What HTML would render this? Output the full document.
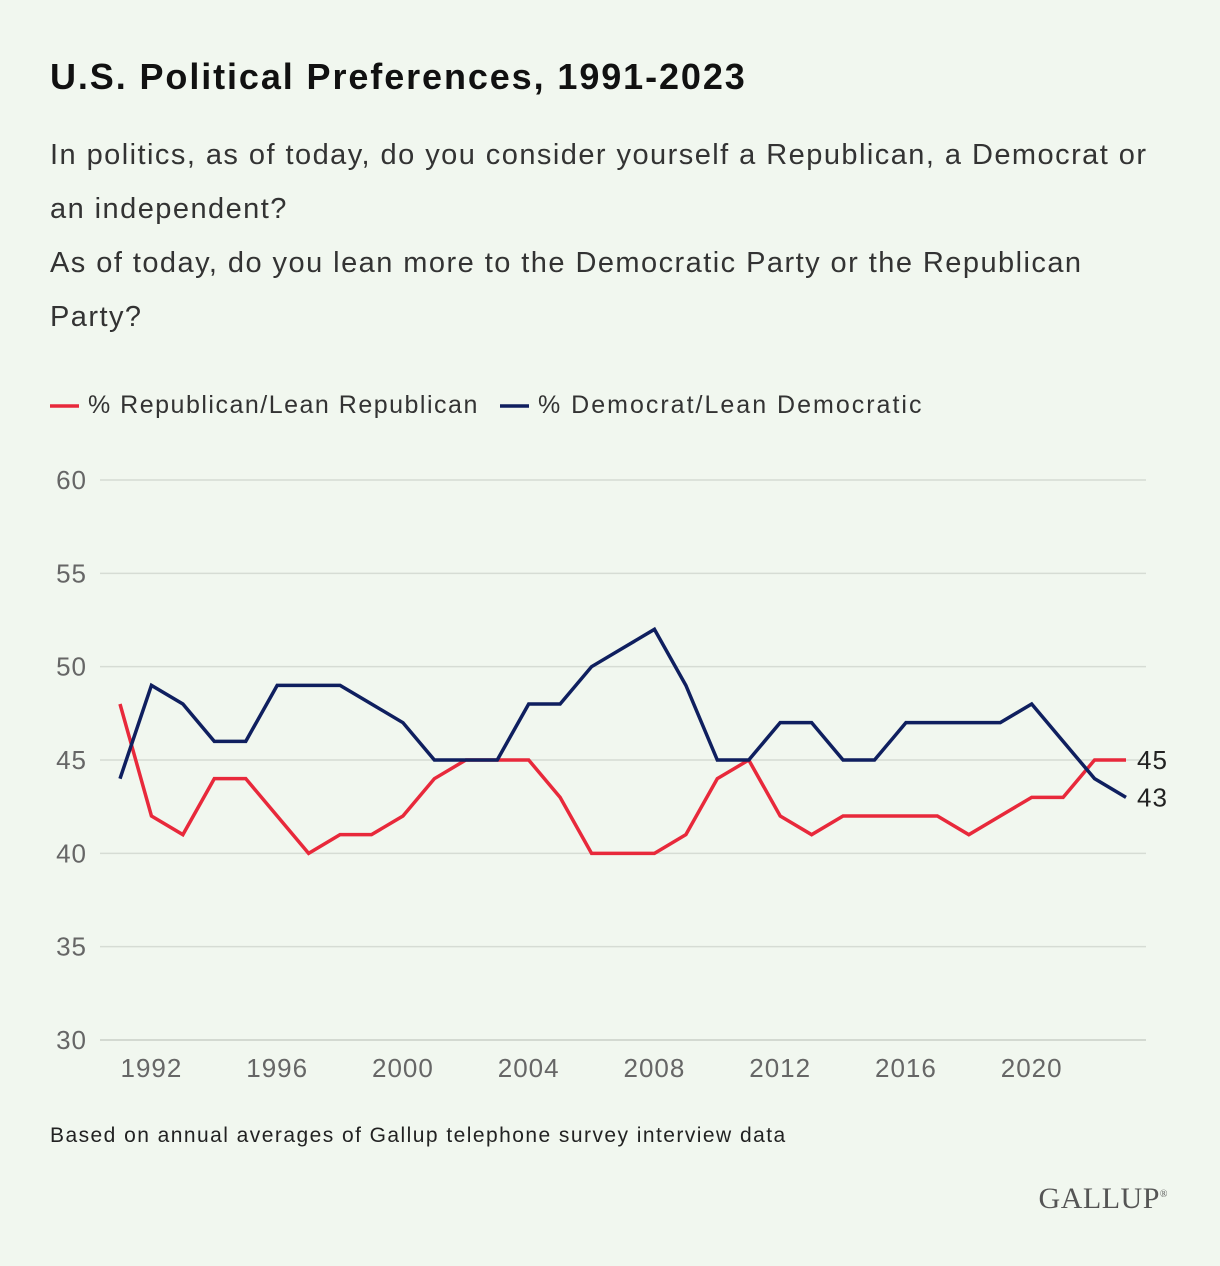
<!DOCTYPE html>
<html><head><meta charset="utf-8">
<style>
body{margin:0;background:#f1f7ef;font-family:"Liberation Sans",sans-serif;}
#wrap{position:relative;width:1220px;height:1266px;background:#f1f7ef;overflow:hidden;}
h1{position:absolute;left:50px;top:56px;margin:0;font-size:36px;font-weight:bold;color:#111;letter-spacing:1.9px;}
.q{position:absolute;left:50px;font-size:29px;color:#333;line-height:54px;letter-spacing:1.45px;}
#note{position:absolute;left:50px;top:1124px;font-size:21px;color:#222;letter-spacing:1.45px;}
#logo{position:absolute;right:52px;top:1182px;font-family:"Liberation Serif",serif;font-size:30px;color:#555;letter-spacing:0.5px;}
</style></head><body>
<div id="wrap">
<h1>U.S. Political Preferences, 1991-2023</h1>
<div class="q" style="top:128px">In politics, as of today, do you consider yourself a Republican, a Democrat or<br>an independent?<br>As of today, do you lean more to the Democratic Party or the Republican<br>Party?</div>
<svg id="chart" width="1220" height="1266" style="position:absolute;left:0;top:0"></svg>
<div id="note">Based on annual averages of Gallup telephone survey interview data</div>
<div id="logo">GALLUP<sup style="font-size:10px">®</sup></div>
</div>
<script>
const years=[1991,1992,1993,1994,1995,1996,1997,1998,1999,2000,2001,2002,2003,2004,2005,2006,2007,2008,2009,2010,2011,2012,2013,2014,2015,2016,2017,2018,2019,2020,2021,2022,2023];
const repValues=[48,42,41,44,44,42,40,41,41,42,44,45,45,45,43,40,40,40,41,44,45,42,41,42,42,42,42,41,42,43,43,45,45];
const demValues=[44,49,48,46,46,49,49,49,48,47,45,45,45,48,48,50,51,52,49,45,45,47,47,45,45,47,47,47,47,48,46,44,43];
const yTicks=[30,35,40,45,50,55,60];
const xTicks=[1992,1996,2000,2004,2008,2012,2016,2020];
const svg=document.getElementById('chart');
const NS='http://www.w3.org/2000/svg';
const x=v=>120+(v-1991)*(1126-120)/32;
const y=v=>1040-(v-30)*(560/30);
function mk(t,a){const e=document.createElementNS(NS,t);for(const k in a)e.setAttribute(k,a[k]);svg.appendChild(e);return e;}
yTicks.forEach(t=>{
 const l=mk('line',{x1:100,x2:1146,y1:y(t),y2:y(t),stroke:t===30?'#c9cfc7':'#d6dcd4','stroke-width':1.5});
 
 
 const tx=mk('text',{x:87,y:y(t)+9,'text-anchor':'end','font-size':26,fill:'#666','font-family':'Liberation Sans, sans-serif','letter-spacing':1});
 tx.textContent=t;
 
 
});
xTicks.forEach(t=>{
 const tx=mk('text',{x:x(t),y:1077,'text-anchor':'middle','font-size':26,fill:'#666','font-family':'Liberation Sans, sans-serif','letter-spacing':1});
 tx.textContent=t;
 
 
});
function line(vals,color,name){
 const p=mk('polyline',{points:vals.map((v,i)=>x(years[i])+','+y(v)).join(' '),fill:'none',stroke:color,'stroke-width':3.5,'stroke-linejoin':'miter'});
 
 
 const last=vals[vals.length-1];
 const t=mk('text',{x:1137,y:y(last)+9,'font-size':26,fill:'#222','font-family':'Liberation Sans, sans-serif','letter-spacing':1});
 t.textContent=last;
 
 
}
line(repValues,'#e8293b','republican-line');
line(demValues,'#0f1f5f','democrat-line');
const legend=[['% Republican/Lean Republican','#e8293b',50],['% Democrat/Lean Democratic','#0f1f5f',500]];
legend.forEach(([lab,c,lx])=>{
 const l=mk('line',{x1:lx,x2:lx+29,y1:406,y2:406,stroke:c,'stroke-width':3.5});
 
 
 const t=mk('text',{x:lx+38,y:413,'font-size':25,fill:'#333','font-family':'Liberation Sans, sans-serif','letter-spacing':lx>100?2:1.5});
 t.textContent=lab;
 
 
});
</script>
</body></html>
